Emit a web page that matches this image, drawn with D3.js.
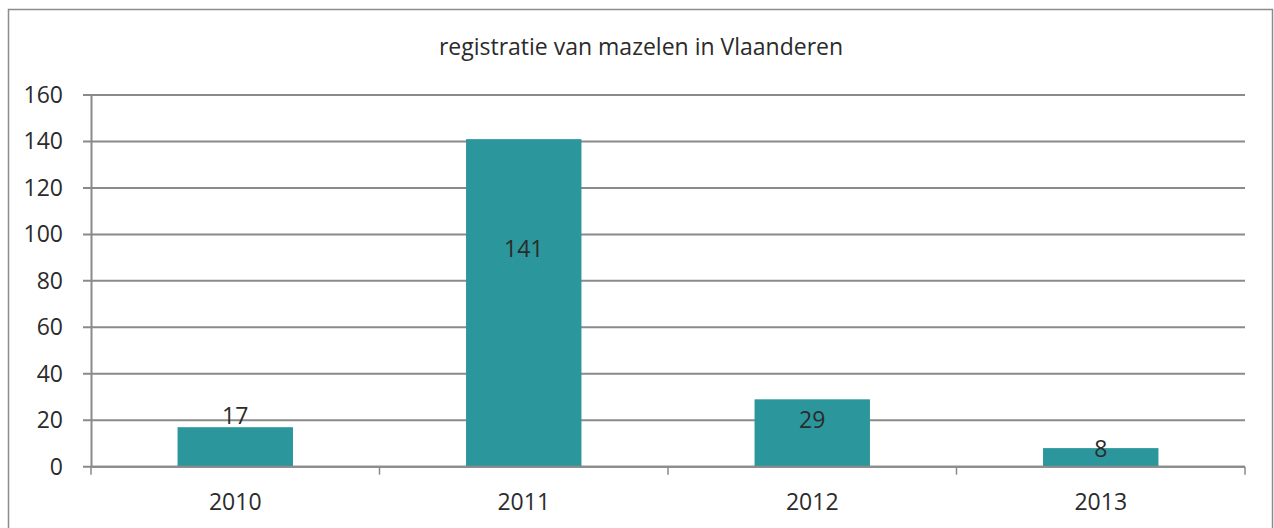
<!DOCTYPE html>
<html>
<head>
<meta charset="utf-8">
<script src="https://cdn.jsdelivr.net/npm/d3@7"></script>
<style>
  html, body { margin: 0; padding: 0; background: #ffffff; }
  svg { display: block; }
  text { font-family: "Open Sans", "Liberation Sans", sans-serif; fill: #2b2b2b; }
</style>
</head>
<body>
<script>
// Measles registrations in Flanders per year
const years = ["2010", "2011", "2012", "2013"];
const cases = [17, 141, 29, 8];
const yTicks = [0, 20, 40, 60, 80, 100, 120, 140, 160];
const chartTitle = "registratie van mazelen in Vlaanderen";
// Baseline of each value label, in px below the top of its bar
const labelOffsets = [-3, 118, 29, 9];

const W = 1274, H = 528;
const margin = { left: 91, right: 29, top: 95, bottom: 61 };
const fontSize = "23px";

const svg = d3.select("body").append("svg")
  .attr("width", W).attr("height", H);

// outer frame
svg.append("rect")
  .attr("x", 8.5).attr("y", 9.5)
  .attr("width", 1264).attr("height", 540)
  .attr("fill", "none").attr("stroke", "#8c8c8c").attr("stroke-width", 1.5);

svg.append("text")
  .attr("x", 641).attr("y", 55)
  .attr("text-anchor", "middle")
  .style("font-size", "23px")
  .text(chartTitle);

const x = d3.scaleBand()
  .domain(years)
  .range([margin.left, W - margin.right])
  .paddingInner(0.6).paddingOuter(0.3);

const y = d3.scaleLinear()
  .domain([0, 160])
  .range([H - margin.bottom - 0.3, margin.top]);

// gridlines
svg.append("g")
  .selectAll("line")
  .data(yTicks)
  .join("line")
  .attr("x1", margin.left - 8).attr("x2", W - margin.right)
  .attr("y1", d => y(d)).attr("y2", d => y(d))
  .attr("stroke", "#8a8a8a").attr("stroke-width", 2);

// y axis
const yAxis = svg.append("g")
  .attr("transform", `translate(${margin.left},0)`)
  .call(d3.axisLeft(y).tickValues(yTicks).tickSize(0).tickPadding(28));
yAxis.select(".domain").attr("stroke", "#8a8a8a").attr("stroke-width", 2);
yAxis.selectAll("text").style("font-size", fontSize).attr("fill", "#2b2b2b")
  .style("font-family", "'Open Sans', 'Liberation Sans', sans-serif");

// bars
svg.append("g")
  .selectAll("rect")
  .data(cases)
  .join("rect")
  .attr("x", (d, i) => x(years[i]))
  .attr("width", x.bandwidth())
  .attr("y", d => y(d))
  .attr("height", d => y(0) - y(d))
  .attr("fill", "#2b969b");

// x axis with category boundary ticks
const step = x.step();
const xAxisG = svg.append("g").attr("transform", `translate(0,${y(0)})`);
xAxisG.append("line")
  .attr("x1", margin.left).attr("x2", W - margin.right)
  .attr("stroke", "#8a8a8a").attr("stroke-width", 2);
xAxisG.selectAll("line.tick")
  .data(d3.range(years.length + 1))
  .join("line").attr("class", "tick")
  .attr("x1", i => margin.left + i * step).attr("x2", i => margin.left + i * step)
  .attr("y1", 0).attr("y2", 8)
  .attr("stroke", "#8a8a8a").attr("stroke-width", 1.5);
xAxisG.selectAll("text")
  .data(years)
  .join("text")
  .attr("x", d => x(d) + x.bandwidth() / 2)
  .attr("y", 43)
  .attr("text-anchor", "middle")
  .style("font-size", fontSize)
  .text(d => d);

// value labels
svg.append("g")
  .selectAll("text")
  .data(cases)
  .join("text")
  .attr("x", (d, i) => x(years[i]) + x.bandwidth() / 2)
  .attr("y", (d, i) => y(d) + labelOffsets[i])
  .attr("text-anchor", "middle")
  .style("font-size", fontSize)
  .text(d => d);
</script>
</body>
</html>
